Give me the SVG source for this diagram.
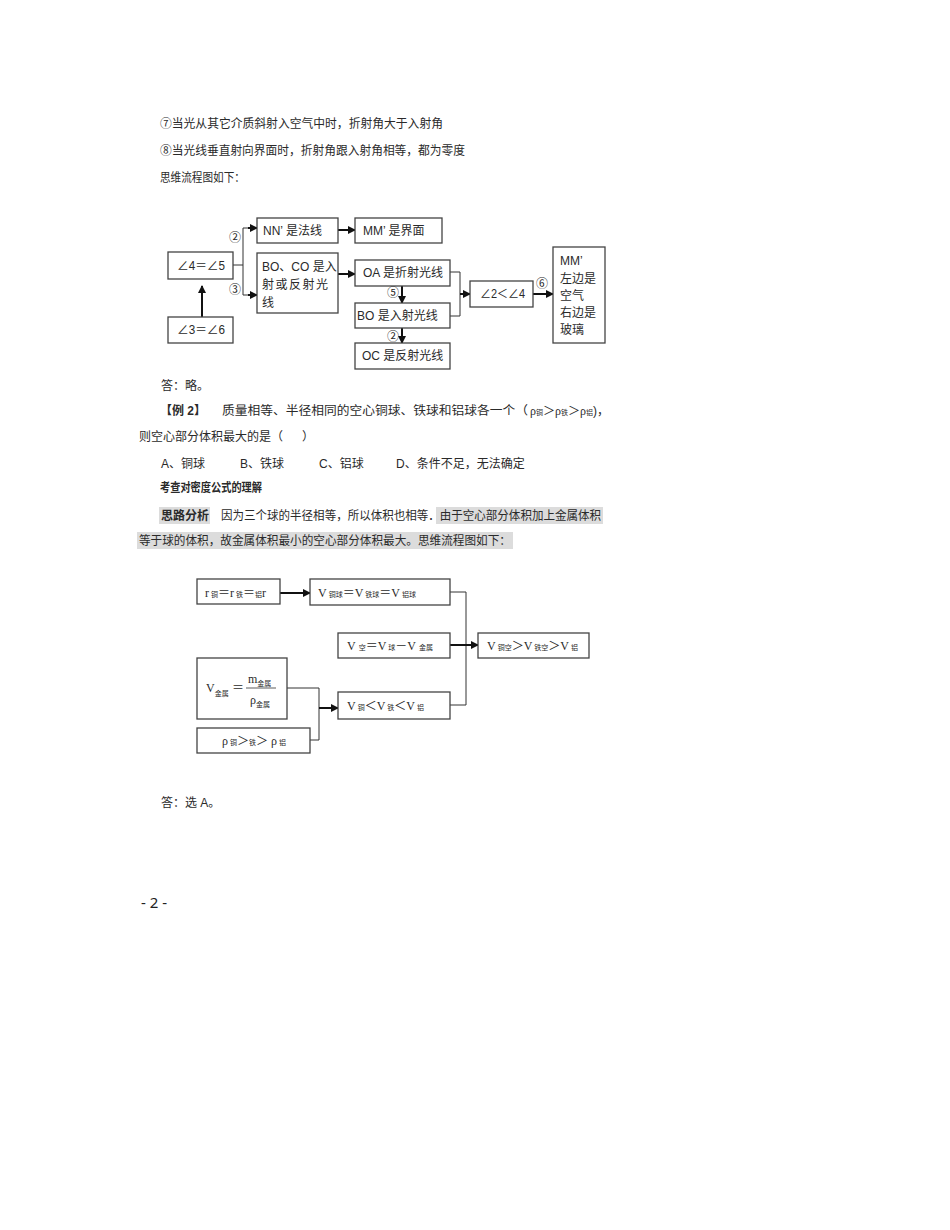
<svg xmlns="http://www.w3.org/2000/svg" width="950" height="1230" viewBox="0 0 950 1230">
<defs>
<style>
.t{font-family:"Liberation Sans","Noto Sans CJK SC",sans-serif;font-size:12px;fill:#2a2a2a}
.b{font-weight:bold}
.s{font-size:7px}
.v{font-family:"Liberation Serif","Noto Sans CJK SC",serif;font-size:12px;fill:#2a2a2a}
.box{fill:#fff;stroke:#444;stroke-width:1.3}
.ln{fill:none;stroke:#333;stroke-width:1}
.ar{fill:none;stroke:#111;stroke-width:2}
.hl{fill:#dcdcdc}
</style>
<marker id="ah" markerWidth="8" markerHeight="8" refX="7" refY="4" orient="auto" markerUnits="userSpaceOnUse">
<path d="M0,0 L8,4 L0,8 Z" fill="#111"/>
</marker>
</defs>
<rect width="950" height="1230" fill="#fff"/>

<!-- body text -->
<text class="t" x="160" y="128" textLength="283" lengthAdjust="spacingAndGlyphs">⑦当光从其它介质斜射入空气中时，折射角大于入射角</text>
<text class="t" x="160" y="155" textLength="305" lengthAdjust="spacingAndGlyphs">⑧当光线垂直射向界面时，折射角跟入射角相等，都为零度</text>
<text class="t" x="160" y="182" textLength="85" lengthAdjust="spacingAndGlyphs">思维流程图如下：</text>

<!-- flowchart 1 -->
<g id="connectors1">
<path class="ar" d="M202,317 V286" marker-end="url(#ah)"/>
<path class="ln" d="M233,265 H243 M243,228 V295"/>
<path class="ln" d="M243,228 H250" /><path class="ar" d="M248,228 H257" marker-end="url(#ah)"/>
<path class="ln" d="M243,295 H250" /><path class="ar" d="M248,295 H257" marker-end="url(#ah)"/>
<path class="ar" d="M338,230 H355" marker-end="url(#ah)"/>
<path class="ar" d="M338,274 H355" marker-end="url(#ah)"/>
<path class="ar" d="M402,286 V303" marker-end="url(#ah)"/>
<path class="ar" d="M402,328 V343" marker-end="url(#ah)"/>
<path class="ln" d="M450,272 H460 V316 H450"/>
<path class="ar" d="M460,294 H470" marker-end="url(#ah)"/>
<path class="ar" d="M533,294 H553" marker-end="url(#ah)"/>
<text class="t" x="229" y="242" font-size="11">②</text>
<text class="t" x="229" y="294" font-size="11">③</text>
<text class="t" x="387" y="297" font-size="11">⑤</text>
<text class="t" x="387" y="341" font-size="11">②</text>
<text class="t" x="536" y="288" font-size="11">⑥</text>
</g>
<g id="n_a45"><rect class="box" x="168" y="252" width="65" height="27"/><text class="t" x="177" y="270" textLength="48" lengthAdjust="spacingAndGlyphs">∠4＝∠5</text></g>
<g id="n_a36"><rect class="box" x="168" y="317" width="65" height="26"/><text class="t" x="177" y="334" textLength="48" lengthAdjust="spacingAndGlyphs">∠3＝∠6</text></g>
<g id="n_nn"><rect class="box" x="257" y="218" width="81" height="25"/><text class="t" x="263" y="235">NN’ 是法线</text></g>
<g id="n_boco"><rect class="box" x="257" y="253" width="81" height="60"/>
<text class="t" x="262" y="271">BO、CO 是入</text><text class="t" x="262" y="289" textLength="66" lengthAdjust="spacing">射或反射光</text><text class="t" x="262" y="307">线</text></g>
<g id="n_mm"><rect class="box" x="355" y="218" width="87" height="25"/><text class="t" x="363" y="235">MM’ 是界面</text></g>
<g id="n_oa"><rect class="box" x="355" y="260" width="95" height="26"/><text class="t" x="363" y="277">OA 是折射光线</text></g>
<g id="n_bo"><rect class="box" x="355" y="303" width="95" height="25"/><text class="t" x="357" y="320">BO 是入射光线</text></g>
<g id="n_oc"><rect class="box" x="355" y="343" width="95" height="26"/><text class="t" x="362" y="360">OC 是反射光线</text></g>
<g id="n_a24"><rect class="box" x="470" y="281" width="63" height="26"/><text class="t" x="480" y="298" textLength="45" lengthAdjust="spacingAndGlyphs">∠2＜∠4</text></g>
<g id="n_mmside"><rect class="box" x="553" y="247" width="52" height="96"/>
<text class="t" x="560" y="265">MM’</text><text class="t" x="560" y="283">左边是</text><text class="t" x="560" y="300">空气</text><text class="t" x="560" y="317">右边是</text><text class="t" x="560" y="334">玻璃</text></g>

<!-- middle text -->
<text class="t" x="161" y="390">答：略。</text>
<text class="t b" x="160" y="415">【例 2】</text>
<text class="t" x="222" y="415" textLength="306" lengthAdjust="spacingAndGlyphs">质量相等、半径相同的空心铜球、铁球和铝球各一个（</text>
<text class="v" x="530" y="415">ρ<tspan class="s">铜</tspan>＞ρ<tspan class="s">铁</tspan>＞ρ<tspan class="s">铝</tspan><tspan class="t">)，</tspan></text>
<text class="t" x="139" y="441">则空心部分体积最大的是（</text>
<text class="t" x="302" y="441">）</text>
<text class="t" x="161" y="468">A、铜球</text>
<text class="t" x="240" y="468">B、铁球</text>
<text class="t" x="319" y="468">C、铝球</text>
<text class="t" x="396" y="468">D、条件不足，无法确定</text>
<text class="t b" x="160" y="492" font-size="10" textLength="102" lengthAdjust="spacingAndGlyphs">考查对密度公式的理解</text>
<rect class="hl" x="159" y="507" width="51" height="17"/>
<rect class="hl" x="436" y="507" width="167" height="17"/>
<rect class="hl" x="137" y="532" width="376" height="17"/>
<text class="t b" x="161" y="520">思路分析</text>
<text class="t" x="221" y="520" textLength="380" lengthAdjust="spacingAndGlyphs">因为三个球的半径相等，所以体积也相等．由于空心部分体积加上金属体积</text>
<text class="t" x="139" y="545" textLength="372" lengthAdjust="spacingAndGlyphs">等于球的体积，故金属体积最小的空心部分体积最大。思维流程图如下：</text>

<!-- flowchart 2 -->
<g id="connectors2">
<path class="ar" d="M280,593 H310" marker-end="url(#ah)"/>
<path class="ln" d="M450,592 H466 V705 H450"/>
<path class="ar" d="M450,645 H478" marker-end="url(#ah)"/>
<path class="ln" d="M287,688 H319 V740 H310"/>
<path class="ar" d="M319,708 H338" marker-end="url(#ah)"/>
</g>
<g id="n_r"><rect class="box" x="197" y="579" width="83" height="25"/>
<text class="v" x="205" y="597">r<tspan class="s" dx="2">铜</tspan>＝r<tspan class="s" dx="2">铁</tspan>＝<tspan class="s">铝</tspan>r</text></g>
<g id="n_vball"><rect class="box" x="310" y="579" width="140" height="26"/>
<text class="v" x="318" y="597">V<tspan class="s" dx="2">铜球</tspan>＝V<tspan class="s" dx="2">铁球</tspan>＝V<tspan class="s" dx="2">铝球</tspan></text></g>
<g id="n_vempty"><rect class="box" x="338" y="633" width="112" height="25"/>
<text class="v" x="347" y="650">V<tspan class="s" dx="3">空</tspan>＝V<tspan class="s" dx="2">球</tspan>－V<tspan class="s" dx="3">金属</tspan></text></g>
<g id="n_result"><rect class="box" x="478" y="633" width="111" height="25"/>
<text class="v" x="487" y="650">V<tspan class="s" dx="2">铜空</tspan>＞V<tspan class="s" dx="2">铁空</tspan>＞V<tspan class="s" dx="2">铝</tspan></text></g>
<g id="n_vmetal"><rect class="box" x="197" y="658" width="90" height="61"/>
<text class="v" x="206" y="692">V<tspan class="s" dy="4">金属</tspan></text>
<text class="v" x="232" y="692">＝</text>
<text class="v" x="248" y="683">m<tspan class="s" dy="3">金属</tspan></text>
<line x1="246" y1="688" x2="276" y2="688" stroke="#333" stroke-width="0.8"/>
<text class="v" x="250" y="704">ρ<tspan class="s" dy="3">金属</tspan></text></g>
<g id="n_rho"><rect class="box" x="197" y="728" width="113" height="25"/>
<text class="v" x="222" y="745">ρ<tspan class="s" dx="2">铜</tspan>＞<tspan class="s">铁</tspan>＞ ρ<tspan class="s" dx="2">铝</tspan></text></g>
<g id="n_vless"><rect class="box" x="338" y="692" width="112" height="27"/>
<text class="v" x="347" y="710">V<tspan class="s" dx="2">铜</tspan>＜V<tspan class="s" dx="2">铁</tspan>＜V<tspan class="s" dx="2">铝</tspan></text></g>

<text class="t" x="161" y="807">答：选 A。</text>
<text x="141" y="908" font-family="Noto Sans, DejaVu Sans, sans-serif" font-size="15" fill="#222">- 2 -</text>
</svg>
